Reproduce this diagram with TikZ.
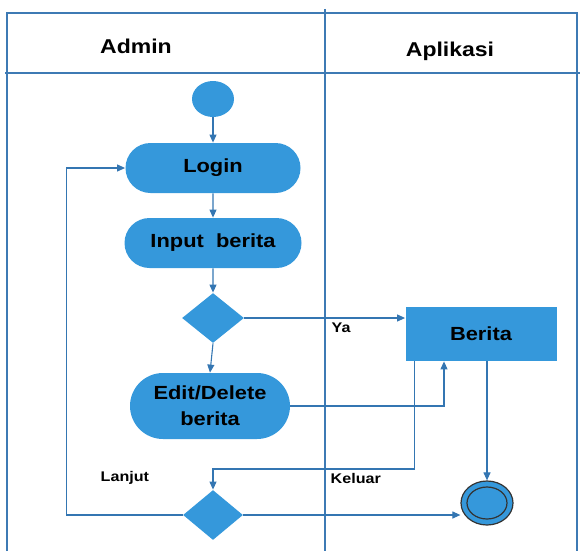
\documentclass[tikz,border=0pt]{standalone}
\usepackage{fontspec}
\usepackage{tikz}
\usetikzlibrary{arrows.meta,shapes.misc,shapes.geometric}
\newfontfamily\diafont[FakeStretch=1.15]{Liberation Sans}
\definecolor{actblue}{RGB}{53,152,219}
\definecolor{lineblue}{RGB}{52,118,178}
\definecolor{laneblue}{RGB}{62,122,180}
\begin{document}
\begin{tikzpicture}[x=1pt,y=-1pt,thick,
  lane/.style={laneblue,line width=1.1pt},
  flow/.style={lineblue,line width=1.1pt,-{Triangle[length=8pt,width=7pt]}},
  act/.style={rounded rectangle,fill=actblue,inner sep=0pt,align=center,font=\diafont\bfseries\fontsize{19}{26}\selectfont},
  decision/.style={diamond,fill=actblue,inner sep=0pt},
  lbl/.style={anchor=west,font=\diafont\bfseries\fontsize{14}{16}\selectfont}]
\useasboundingbox (0,0) rectangle (580,551);
% swimlanes
\draw[lane] (7,551) |- (577,13) -- (577,551);
\draw[lane] (5,73) -- (580,73);
\draw[lane] (325,9) -- (325,551);
\node[font=\diafont\bfseries\fontsize{20}{22}\selectfont] (admin) at (136,46) {Admin};
\node[font=\diafont\bfseries\fontsize{20}{22}\selectfont] (aplikasi) at (450,51) {Aplikasi};
% activities
\node[ellipse,fill=actblue,minimum width=42pt,minimum height=36pt] (start) at (213,99) {};
\node[act,minimum width=175pt,minimum height=50pt] (login) at (213,168) {Login};
\node[act,minimum width=177pt,minimum height=50pt] (input) at (213,243) {Input\ \ berita};
\node[decision,minimum width=62pt,minimum height=50pt] (dec1) at (213,318) {};
\node[act,minimum width=160pt,minimum height=66pt] (edit) at (210,406) {Edit/Delete\\berita};
\node[rectangle,fill=actblue,minimum width=151pt,minimum height=54pt,font=\diafont\bfseries\fontsize{19}{20}\selectfont] (berita) at (481,334) {Berita};
\node[decision,minimum width=60pt,minimum height=50pt] (dec2) at (213,515) {};
\node[ellipse,draw=black!80,fill=actblue,line width=1.2pt,minimum width=52pt,minimum height=44pt] (final) at (487,503) {};
\draw[black!80,line width=1.2pt] (final.center) ellipse (20 and 16);
% flows
\draw[flow] (start) -- (login);
\draw[flow] (login) -- (input);
\draw[flow] (input) -- (dec1);
\draw[flow] (dec1.south) -- (edit.north);
\draw[flow] (dec1.east) -- (dec1.east -| berita.west);
\draw[flow] (edit.east) -| ([xshift=-37pt]berita.south);
\draw[flow] ([xshift=9pt]berita.south west) |- (213,469) -- (dec2.north);
\draw[flow] (berita.south -| final) -- (final.north);
\draw[flow] (dec2.east) -- (dec2.east -| final.west);
\draw[flow] (dec2.west) -- ++(-116,0) |- (login.west);
\node[lbl] (ya) at (328,328) {Ya};
\node[lbl] (keluar) at (327,478) {Keluar};
\node[lbl] (lanjut) at (97,478) {Lanjut};
\end{tikzpicture}
\end{document}
